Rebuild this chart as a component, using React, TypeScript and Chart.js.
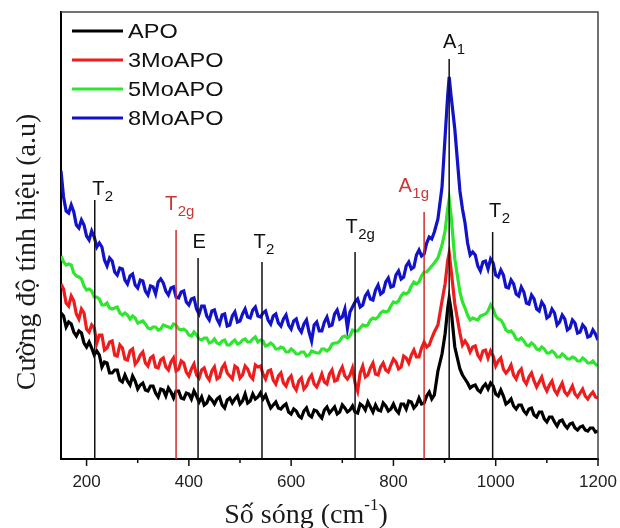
import React, { useEffect, useRef } from "react";
import { Chart, registerables } from "chart.js";

Chart.register(...registerables);

// ---- data ----
const wavenumbers = [
  150, 160, 170, 180, 190, 200, 210, 220, 230, 240,
  250, 260, 270, 280, 290, 300, 310, 320, 330, 340,
  350, 360, 370, 380, 390, 400, 410, 420, 430, 440,
  450, 460, 470, 480, 490, 500, 510, 520, 530, 540,
  550, 560, 570, 580, 590, 600, 610, 620, 630, 640,
  650, 660, 670, 680, 690, 700, 710, 720, 730, 740,
  750, 760, 770, 780, 790, 800, 810, 820, 830, 840,
  850, 860, 870, 880, 887, 895, 901, 906, 909, 913,
  920, 930, 940, 950, 960, 970, 980, 990, 1000, 1010,
  1020, 1030, 1040, 1050, 1060, 1070, 1080, 1090, 1100, 1110,
  1120, 1130, 1140, 1150, 1160, 1170, 1180, 1190, 1200,
];

const apo = [
  146, 132, 135, 123, 126, 112, 111, 108, 92, 96,
  86, 89, 77, 78, 83, 70, 76, 68, 73, 62,
  69, 71, 61, 68, 60, 65, 68, 57, 54, 62,
  55, 62, 51, 61, 60, 55, 65, 58, 60, 66,
  64, 51, 57, 50, 55, 45, 48, 41, 51, 42,
  48, 41, 52, 49, 45, 54, 47, 53, 46, 53,
  57, 47, 49, 56, 48, 55, 46, 55, 58, 51,
  61, 56, 67, 64, 88, 105, 125, 150, 161, 148,
  112, 90, 80, 71, 74, 67, 75, 76, 65, 69,
  55, 60, 50, 54, 45, 51, 42, 47, 37, 42,
  33, 39, 31, 36, 29, 33, 28, 31, 28,
];

const mo3 = [
  175, 156, 163, 145, 150, 130, 134, 116, 124, 111,
  118, 103, 111, 99, 110, 98, 107, 93, 103, 91,
  101, 89, 101, 90, 96, 83, 95, 81, 91, 79,
  92, 82, 95, 83, 93, 81, 93, 83, 94, 93,
  80, 89, 75, 86, 73, 83, 69, 81, 73, 84,
  72, 85, 75, 89, 79, 92, 80, 91, 68, 93,
  84, 96, 84, 96, 87, 100, 90, 103, 96, 109,
  102, 117, 114, 127, 134, 158, 175, 198, 206, 188,
  155, 126, 118, 107, 113, 100, 109, 108, 93, 101,
  86, 94, 80, 90, 75, 86, 72, 82, 68, 78,
  65, 76, 64, 73, 62, 70, 60, 67, 61,
];

const mo5 = [
  203, 194, 194, 183, 180, 169, 168, 162, 154, 156,
  150, 152, 144, 144, 143, 136, 138, 131, 132, 129,
  134, 132, 135, 130, 130, 124, 127, 120, 121, 116,
  120, 115, 119, 114, 119, 116, 120, 117, 122, 119,
  113, 116, 110, 112, 107, 110, 105, 107, 103, 108,
  106, 110, 108, 115, 116, 122, 121, 129, 128, 134,
  134, 141, 142, 148, 148, 157, 158, 166, 167, 177,
  177, 187, 190, 196, 201, 214, 228, 250, 260, 242,
  200, 167, 151, 139, 140, 143, 145, 154, 143, 139,
  129, 128, 120, 121, 114, 116, 110, 112, 106, 108,
  102, 105, 100, 102, 98, 101, 96, 98, 93,
];

const mo8 = [
  288, 248, 254, 234, 239, 223, 228, 212, 212, 193,
  198, 184, 190, 175, 185, 171, 178, 164, 172, 177,
  176, 164, 172, 161, 168, 154, 161, 145, 153, 139,
  149, 135, 145, 134, 147, 138, 150, 141, 152, 142,
  148, 135, 145, 133, 144, 130, 140, 127, 139, 118,
  137, 128, 142, 134, 149, 142, 131, 152, 160, 154,
  167, 159, 174, 167, 181, 173, 188, 182, 197, 192,
  209, 205, 222, 227, 240, 272, 322, 363, 382, 362,
  330, 268, 236, 204, 204, 188, 198, 200, 184, 189,
  172, 179, 165, 172, 156, 164, 150, 157, 141, 150,
  134, 144, 129, 139, 126, 134, 122, 129, 119,
];

// in-between readings (half-step wavenumbers)
const midWavenumbers = [
  155, 165, 175, 185, 195, 205, 215, 225, 235, 245,
  255, 265, 275, 285, 295, 305, 315, 325, 335, 345,
  355, 365, 375, 385, 395, 405, 415, 425, 435, 445,
  455, 465, 475, 485, 495, 505, 515, 525, 535, 545,
  555, 565, 575, 585, 595, 605, 615, 625, 635, 645,
  655, 665, 675, 685, 695, 705, 715, 725, 735, 745,
  755, 765, 775, 785, 795, 805, 815, 825, 835, 845,
  855, 865, 875, 935, 945, 955, 965, 975, 985, 995,
  1005, 1015, 1025, 1035, 1045, 1055, 1065, 1075, 1085, 1095,
  1105, 1115, 1125, 1135, 1145, 1155, 1165, 1175, 1185, 1195,
];

const apoMid = [
  143, 137, 127, 128, 116, 117, 104, 104, 97, 86,
  89, 79, 84, 74, 78, 74, 69, 73, 66, 70,
  63, 67, 68, 61, 66, 60, 63, 62, 56, 59,
  60, 54, 59, 56, 63, 58, 56, 65, 62, 60,
  57, 54, 51, 53, 47, 50, 43, 48, 44, 49,
  44, 49, 46, 52, 47, 51, 49, 47, 55, 49,
  52, 54, 48, 53, 50, 49, 55, 50, 57, 54,
  55, 63, 60, 84, 76, 73, 69, 72, 70, 73,
  63, 63, 57, 53, 54, 48, 50, 44, 47, 40,
  42, 37, 38, 34, 35, 31, 32, 29, 31, 27,
];

const mo3Mid = [
  170, 153, 158, 140, 146, 127, 131, 124, 109, 117,
  104, 114, 100, 108, 95, 104, 96, 101, 92, 99,
  92, 97, 88, 98, 87, 90, 84, 89, 83, 88,
  80, 91, 86, 80, 91, 84, 90, 80, 92, 85,
  88, 79, 83, 76, 80, 73, 78, 70, 80, 75,
  78, 77, 85, 78, 87, 83, 84, 76, 86, 82,
  91, 85, 92, 89, 94, 97, 92, 101, 104, 102,
  111, 112, 121, 114, 114, 112, 104, 108, 101, 103,
  98, 90, 89, 84, 87, 79, 82, 78, 77, 73,
  74, 69, 71, 67, 68, 65, 66, 63, 64, 62,
];

const mo5Mid = [
  197, 195, 186, 182, 173, 170, 162, 160, 154, 151,
  151, 146, 146, 140, 141, 137, 135, 130, 132, 130,
  133, 131, 134, 129, 128, 123, 124, 119, 121, 117,
  116, 118, 114, 117, 115, 119, 117, 120, 117, 118,
  114, 114, 110, 111, 107, 108, 105, 107, 104, 107,
  106, 110, 110, 116, 118, 123, 123, 128, 131, 133,
  139, 140, 146, 147, 153, 156, 163, 165, 173, 175,
  183, 187, 193, 157, 144, 141, 139, 144, 148, 150,
  140, 135, 127, 125, 119, 118, 113, 114, 109, 110,
  106, 106, 102, 103, 100, 101, 98, 99, 96, 95,
];

const mo8Mid = [
  262, 246, 247, 231, 234, 219, 222, 216, 199, 201,
  187, 191, 179, 183, 174, 179, 168, 173, 165, 180,
  168, 171, 162, 167, 157, 160, 150, 153, 143, 148,
  140, 144, 133, 143, 137, 145, 142, 149, 143, 146,
  139, 143, 136, 140, 134, 138, 131, 135, 127, 134,
  128, 137, 133, 145, 140, 150, 147, 157, 152, 163,
  160, 169, 165, 177, 172, 184, 180, 193, 190, 204,
  203, 216, 220, 250, 216, 207, 193, 197, 190, 196,
  182, 184, 171, 175, 163, 167, 155, 160, 148, 153,
  143, 146, 137, 140, 131, 136, 127, 131, 123, 125,
];

const seriesLabels = ["APO", "3MoAPO", "5MoAPO", "8MoAPO"];
const seriesValues = [apo, mo3, mo5, mo8];
const seriesMidValues = [apoMid, mo3Mid, mo5Mid, mo8Mid];
const seriesColors = ["#000000", "#ee1c1c", "#2ee62e", "#1212c8"];

const xTickValues = [200, 300, 400, 500, 600, 700, 800, 900, 1000, 1100, 1200];
const xTickLabels = ["200", "", "400", "", "600", "", "800", "", "1000", "", "1200"];

// peak assignment markers
const annoX = [216, 375, 418, 543, 725, 860, 909, 994];
const annoTop = [259, 229, 201, 197, 207, 247, 400, 227];
const annoMain = ["T", "T", "E", "T", "T", "A", "A", "T"];
const annoSub = ["2", "2g", "", "2", "2g", "1g", "1", "2"];
const annoRed = [false, true, false, false, false, true, false, false];

const xTitleMain = "Số sóng (cm";
const xTitleSup = "-1";
const xTitleEnd = ")";
const yTitle = "Cường độ tính hiệu (a.u)";

// ---- styling / layout (not data) ----
const RED_LINE = "#d02a2a";
const RED_TEXT = "#c83838";
const labelDx = [3.5, -5, 1, -2.5, -3.5, -19, 0.5, 2.5];
const labelGap = [5, 20, 10, 14, 19, 20, 11, 15];
const SANS = "'Liberation Sans', Arial, sans-serif";
const SERIF = "'Liberation Serif', 'Times New Roman', serif";

const decorPlugin = {
  id: "decor",
  afterDatasetsDraw(chart: any) {
    const { ctx, chartArea: a, scales } = chart;
    const xs = scales.x;
    const ys = scales.y;
    ctx.save();

    // frame (top + right)
    ctx.strokeStyle = "#444";
    ctx.lineWidth = 1.5;
    ctx.beginPath();
    ctx.moveTo(a.left, a.top);
    ctx.lineTo(a.right, a.top);
    ctx.lineTo(a.right, a.bottom);
    ctx.stroke();

    // x tick marks (major/minor)
    ctx.strokeStyle = "#111";
    ctx.lineWidth = 1.5;
    xTickValues.forEach((v, i) => {
      const px = xs.getPixelForValue(v);
      const len = xTickLabels[i] ? 7 : 4;
      ctx.beginPath();
      ctx.moveTo(px, a.bottom);
      ctx.lineTo(px, a.bottom + len);
      ctx.stroke();
    });

    // annotation labels
    ctx.textAlign = "left";
    ctx.textBaseline = "alphabetic";
    annoX.forEach((xv, i) => {
      const px = xs.getPixelForValue(xv);
      const py = ys.getPixelForValue(annoTop[i]);
      ctx.fillStyle = annoRed[i] ? RED_TEXT : "#111";
      ctx.font = `20px ${SANS}`;
      const mw = ctx.measureText(annoMain[i]).width;
      const left = px + labelDx[i] - mw / 2;
      const base = py - labelGap[i];
      ctx.fillText(annoMain[i], left, base);
      if (annoSub[i]) {
        ctx.font = `15px ${SANS}`;
        ctx.fillText(annoSub[i], left + mw + 0.5, base + 6);
      }
    });

    // legend
    ctx.textBaseline = "middle";
    seriesLabels.forEach((lab, i) => {
      const cy = a.top + 19 + i * 29;
      ctx.strokeStyle = seriesColors[i];
      ctx.lineWidth = 3;
      ctx.beginPath();
      ctx.moveTo(a.left + 11, cy);
      ctx.lineTo(a.left + 62, cy);
      ctx.stroke();
      ctx.save();
      ctx.translate(a.left + 67, cy + 1);
      ctx.scale(1.12, 1);
      ctx.fillStyle = "#111";
      ctx.font = `21px ${SANS}`;
      ctx.fillText(lab, 0, 0);
      ctx.restore();
    });

    // x title with superscript
    ctx.fillStyle = "#1a1a1a";
    ctx.textBaseline = "alphabetic";
    ctx.font = `28px ${SERIF}`;
    const w1 = ctx.measureText(xTitleMain).width;
    ctx.font = `17px ${SERIF}`;
    const w2 = ctx.measureText(xTitleSup).width;
    ctx.font = `28px ${SERIF}`;
    const w3 = ctx.measureText(xTitleEnd).width;
    const total = w1 + w2 + w3;
    const cx = a.left + 245;
    let sx = cx - total / 2;
    const base = 523;
    ctx.fillText(xTitleMain, sx, base);
    sx += w1;
    ctx.font = `17px ${SERIF}`;
    ctx.fillText(xTitleSup, sx, base - 13);
    sx += w2;
    ctx.font = `28px ${SERIF}`;
    ctx.fillText(xTitleEnd, sx, base);

    // y title
    ctx.save();
    ctx.translate(35, 252);
    ctx.rotate(-Math.PI / 2);
    ctx.textAlign = "center";
    ctx.font = `28px ${SERIF}`;
    ctx.fillText(yTitle, 0, 0);
    ctx.restore();

    ctx.restore();
  },
};

export default function App() {
  const canvasRef = useRef<HTMLCanvasElement | null>(null);

  useEffect(() => {
    const canvas = canvasRef.current;
    if (!canvas) return;

    const seriesSets = seriesValues.map((vals, si) => {
      const pts = [
        ...wavenumbers.map((x, i) => ({ x, y: vals[i] })),
        ...midWavenumbers.map((x, i) => ({ x, y: seriesMidValues[si][i] })),
      ].sort((p, q) => p.x - q.x);
      return {
        label: seriesLabels[si],
        data: pts,
        borderColor: seriesColors[si],
        backgroundColor: seriesColors[si],
        borderWidth: 3.2,
        pointRadius: 0,
        tension: 0,
        fill: false,
        order: 1,
      };
    });

    const annoSets = annoX.map((xv, i) => ({
      label: "_anno" + i,
      data: [
        { x: xv, y: 0 },
        { x: xv, y: annoTop[i] },
      ],
      borderColor: annoRed[i] ? RED_LINE : "#111",
      borderWidth: 1.5,
      pointRadius: 0,
      fill: false,
      order: 0,
    }));

    const chart = new Chart(canvas, {
      type: "line",
      data: { datasets: [...seriesSets, ...annoSets] as any },
      plugins: [decorPlugin],
      options: {
        animation: false,
        responsive: false,
        devicePixelRatio: 1,
        layout: { padding: { top: 12, right: 22, left: 0, bottom: 0 } },
        plugins: {
          legend: { display: false },
          tooltip: { enabled: false },
        },
        scales: {
          x: {
            type: "linear",
            min: 150,
            max: 1200,
            grid: {
              display: true,
              drawOnChartArea: false,
              drawTicks: true,
              tickLength: 11,
              color: "rgba(0,0,0,0)",
            },
            border: { display: true, color: "#000", width: 2 },
            afterBuildTicks: (s: any) => {
              s.ticks = xTickValues.map((v) => ({ value: v }));
            },
            afterFit: (s: any) => {
              s.height = 69;
            },
            ticks: {
              autoSkip: false,
              maxRotation: 0,
              padding: 2,
              color: "#222",
              font: { family: SANS, size: 17 },
              callback: (v: any) => {
                const idx = xTickValues.indexOf(Number(v));
                return idx >= 0 ? xTickLabels[idx] : "";
              },
            },
          },
          y: {
            type: "linear",
            min: 0,
            max: 447,
            grid: { display: false },
            border: { display: true, color: "#000", width: 2 },
            ticks: { display: false },
            afterFit: (s: any) => {
              s.width = 61;
            },
          },
        },
      } as any,
    });

    return () => chart.destroy();
  }, []);

  return (
    <div
      style={{
        position: "fixed",
        left: 0,
        top: 0,
        width: 620,
        height: 528,
        background: "#fff",
      }}
    >
      <canvas ref={canvasRef} width={620} height={528} />
    </div>
  );
}
